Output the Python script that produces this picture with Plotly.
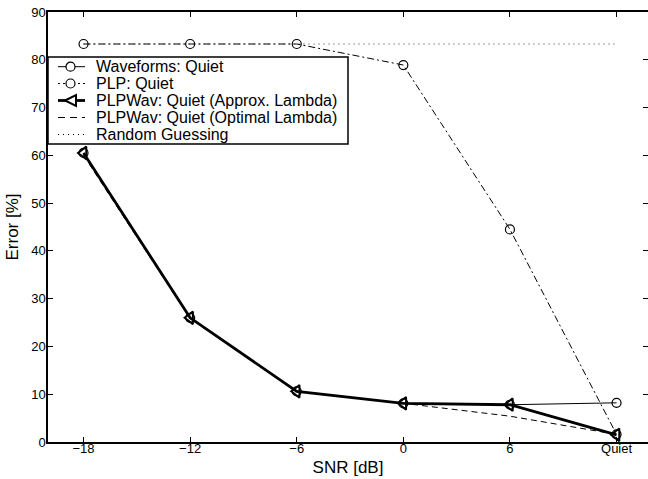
import plotly.graph_objects as go

# ---- data ----
snr_positions = [-18, -12, -6, 0, 6, 12]
snr_labels = ["\u221218", "\u221212", "\u22126", "0", "6", "Quiet"]
waveforms_quiet = [60.5, 26.0, 10.6, 8.1, 7.8, 8.2]
plp_quiet = [83.3, 83.3, 83.3, 78.9, 44.5, 1.6]
plpwav_approx = [60.5, 26.0, 10.6, 8.1, 7.8, 1.5]
plpwav_optimal = [60.0, 25.8, 10.6, 8.1, 5.4, 1.6]
random_guessing = [83.3, 83.3, 83.3, 83.3, 83.3, 83.3]
y_ticks = [0, 10, 20, 30, 40, 50, 60, 70, 80, 90]

series_names = [
    "Waveforms: Quiet",
    "PLP: Quiet",
    "PLPWav: Quiet (Approx. Lambda)",
    "PLPWav: Quiet (Optimal Lambda)",
    "Random Guessing",
]

FONT = "Liberation Sans, Arial, Helvetica, sans-serif"
W, H = 648, 479
ML, MR, MT, MB = 48, 0, 12, 37
PW, PH = W - ML - MR, H - MT - MB


def px(x):
    return (x - ML) / PW


def py(y):
    return (H - MB - y) / PH


fig = go.Figure()
fig.add_trace(go.Scatter(
    x=snr_positions, y=waveforms_quiet, name=series_names[0], mode="lines+markers",
    line=dict(color="black", width=1),
    marker=dict(symbol="circle-open", size=9, color="black", line=dict(width=1.2)),
))
fig.add_trace(go.Scatter(
    x=snr_positions, y=plp_quiet, name=series_names[1], mode="lines+markers",
    line=dict(color="black", width=1, dash="7px,3px,2px,3px"),
    marker=dict(symbol="circle-open", size=9, color="black", line=dict(width=1.2)),
))
fig.add_trace(go.Scatter(
    x=snr_positions, y=plpwav_approx, name=series_names[2], mode="lines+markers",
    line=dict(color="black", width=2.8),
    marker=dict(symbol="triangle-left-open", size=11, color="black", line=dict(width=2)),
))
fig.add_trace(go.Scatter(
    x=snr_positions, y=plpwav_optimal, name=series_names[3], mode="lines",
    line=dict(color="black", width=1, dash="6px,4px"),
))
fig.add_trace(go.Scatter(
    x=snr_positions, y=random_guessing, name=series_names[4], mode="lines",
    line=dict(color="#333333", width=1, dash="1px,4px"), yaxis="y2",
))

# ---- manual compact legend (matches the original tight legend box) ----
shapes = []
annotations = []
shapes.append(dict(type="rect", xref="paper", yref="paper",
                   x0=px(48), x1=px(348), y0=py(144), y1=py(57),
                   line=dict(color="black", width=1.5), fillcolor="white", layer="above"))
rows = [66.7, 83.5, 100.5, 117.5, 134.5]
dashes = ["solid", "2px,3px", "solid", "7px,5px", "1px,4px"]
widths = [1, 1, 2.8, 1, 1]
for i, (yy, nm) in enumerate(zip(rows, series_names)):
    shapes.append(dict(type="line", xref="paper", yref="paper",
                       x0=px(58), x1=px(85), y0=py(yy), y1=py(yy),
                       line=dict(color="black", width=widths[i], dash=dashes[i]), layer="above"))
    annotations.append(dict(xref="paper", yref="paper", x=px(94), y=py(yy),
                            xanchor="left", yanchor="middle", showarrow=False,
                            text=nm, font=dict(family=FONT, size=16, color="black")))
for yy in rows[:2]:
    shapes.append(dict(type="circle", xref="paper", yref="paper",
                       x0=px(66), x1=px(75), y0=py(yy + 4.5), y1=py(yy - 4.5),
                       line=dict(color="black", width=1.2), fillcolor="white", layer="above"))
yy = rows[2]
shapes.append(dict(type="path", xref="paper", yref="paper",
                   path=f"M {px(65)} {py(yy)} L {px(76)} {py(yy - 5.5)} L {px(76)} {py(yy + 5.5)} Z",
                   line=dict(color="black", width=2), fillcolor="white", layer="above"))

fig.update_layout(
    width=W, height=H,
    margin=dict(l=ML, r=MR, t=MT, b=MB),
    paper_bgcolor="white", plot_bgcolor="white",
    font=dict(family=FONT, size=13, color="black"),
    showlegend=False,
    shapes=shapes, annotations=annotations,
)
fig.update_xaxes(
    range=[-20, 13.77], tickmode="array", tickvals=snr_positions, ticktext=snr_labels,
    showline=True, linecolor="black", linewidth=1.5, mirror="ticks",
    ticks="inside", ticklen=5, tickwidth=1, tickcolor="black",
    showgrid=False, zeroline=False, tickfont=dict(size=13), automargin=False,
    ticklabelstandoff=-6, ticklabeloverflow="allow",
    title=dict(text="SNR [dB]", font=dict(size=17), standoff=6),
)
fig.update_layout(
    yaxis=dict(
        range=[0, 90], tickmode="array", tickvals=y_ticks,
        showline=True, linecolor="black", linewidth=1.5, mirror=False,
        ticks="inside", ticklen=5, tickwidth=1, tickcolor="black",
        showgrid=False, zeroline=False, tickfont=dict(size=13), automargin=False,
        ticklabelstandoff=-2, ticklabeloverflow="allow",
        title=dict(text="Error [%]", font=dict(size=17), standoff=8),
    ),
    yaxis2=dict(
        overlaying="y", side="right", matches="y", range=[0, 90],
        tickmode="array", tickvals=y_ticks, showticklabels=False,
        ticks="inside", ticklen=5, tickwidth=1, tickcolor="black",
        showline=False, showgrid=False, zeroline=False, automargin=False,
    ),
)

fig.write_html("out.html", config={"displayModeBar": False},
               post_script="document.body.style.margin='0px';")
